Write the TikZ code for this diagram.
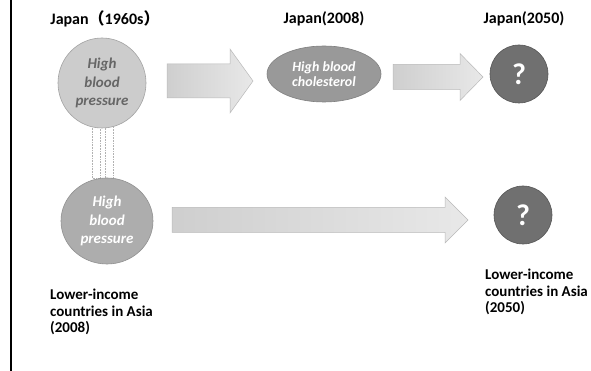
\documentclass[tikz,border=0pt]{standalone}
\usepackage{fontspec}
\setmainfont{Carlito}
\newfontfamily\cjk{Noto Sans CJK SC}
\usetikzlibrary{shapes.geometric,calc}
\definecolor{bubA}{gray}{0.80}
\definecolor{bubAd}{gray}{0.64}
\definecolor{bubB}{gray}{0.60}
\definecolor{bubBd}{gray}{0.50}
\definecolor{bubC}{gray}{0.68}
\definecolor{bubCd}{gray}{0.57}
\begin{document}
\begin{tikzpicture}[x=1pt,y=-1pt,
  title/.style={font=\bfseries\fontsize{16}{18}\selectfont,text=black,inner sep=0pt},
  label/.style={font=\bfseries\fontsize{15}{16.5}\selectfont,text=black,align=left,inner sep=0pt,anchor=west},
  bubble/.style={ellipse,inner sep=0pt,line width=0.6pt,align=center},
  qmark/.style={circle,inner sep=0pt,minimum size=58pt,fill=black!56,draw=black!66,line width=0.6pt,
    text=white,font=\bfseries\fontsize{30}{30}\selectfont},
  blockarrow/.style args={#1/#2/#3}{left color=gray!38,right color=gray!18,draw=gray!55,line width=0.5pt,
    to path={let \p1=(\tikztostart),\p2=(\tikztotarget) in
      (\x1,\y1+#1pt) -- (\x2-#3pt,\y1+#1pt) -- (\x2-#3pt,\y1+#2pt) -- (\x2,\y1) --
      (\x2-#3pt,\y1-#2pt) -- (\x2-#3pt,\y1-#1pt) -- (\x1,\y1-#1pt) -- cycle}},
  eqbar/.style={draw=gray!60,densely dotted,line width=0.6pt,fill=white}
]
\useasboundingbox (0,0) rectangle (591,371);
\fill[white] (0,0) rectangle (591,371);
\draw[line width=2pt,black] (11,0) -- (11,371);

% titles
\node[title] (t1) at (105,19) {Japan{\cjk （}1960s{\cjk ）}};
\node[title] (t2) at (324,19) {Japan(2008)};
\node[title] (t3) at (524,19) {Japan(2050)};

% equality bars
\draw[eqbar] (92,126) rectangle (100,178);
\draw[eqbar] (105,126) rectangle (113,178);

% bubbles
\node[bubble,fill=bubA,draw=bubAd,minimum width=88pt,minimum height=90pt,
  font=\bfseries\itshape\fontsize{15}{18.5}\selectfont,text=black!60] (c1) at (102,83) {High\\blood\\pressure};
\node[bubble,fill=bubB,draw=bubBd,minimum width=114pt,minimum height=56pt,
  font=\bfseries\itshape\fontsize{14}{15.5}\selectfont,text=white] (e1) at (324,74) {High blood\\cholesterol};
\node[qmark] (q1) at (519,74) {?};
\node[bubble,fill=bubC,draw=bubCd,minimum width=92pt,minimum height=86pt,
  font=\bfseries\itshape\fontsize{15}{18.5}\selectfont,text=white] (c2) at (107,221) {High\\blood\\pressure};
\node[qmark] (q2) at (523,215) {?};

% block arrows
\coordinate (a1s) at (167,81);
\coordinate (a1e) at (253,81);
\coordinate (a2s) at (393,77);
\coordinate (a2e) at (483,77);
\coordinate (a3s) at (172,220);
\coordinate (a3e) at (468,220);
\draw[blockarrow=17/32/23] (a1s) to (a1e);
\draw[blockarrow=12.5/23.5/23] (a2s) to (a2e);
\draw[blockarrow=12.5/23/23] (a3s) to (a3e);

% bottom labels
\node[label] (l1) at (50,312) {Lower-income\\countries in Asia\\(2008)};
\node[label] (l2) at (485,292) {Lower-income\\countries in Asia\\(2050)};
\end{tikzpicture}
\end{document}
